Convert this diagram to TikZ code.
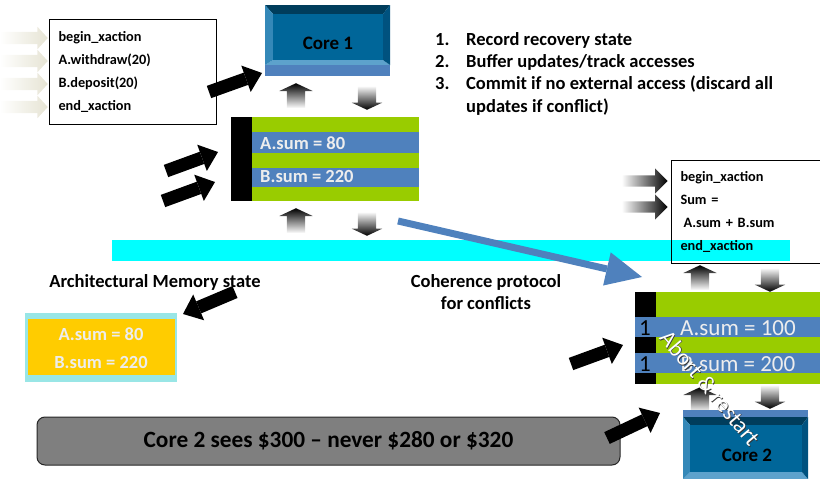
\documentclass[tikz,border=0pt]{standalone}
\usepackage{fontspec}
\setmainfont{Carlito}
\usepackage{tikz}
\usetikzlibrary{arrows.meta,shapes.arrows}

\definecolor{cellgreen}{HTML}{99CC00}
\definecolor{cellblue}{HTML}{4F81BD}
\definecolor{coreinner}{HTML}{006699}
\definecolor{coretop}{HTML}{003D5C}
\definecolor{coreleft}{HTML}{3488B8}
\definecolor{coreright}{HTML}{00527F}
\definecolor{corebottom}{HTML}{5DA2CC}
\definecolor{memgold}{HTML}{FFCC00}
\definecolor{memrim}{HTML}{99E6E6}
\definecolor{busfill}{HTML}{00FFFF}
\definecolor{notegray}{HTML}{7F7F7F}
\definecolor{faint}{HTML}{E6E4D4}
\definecolor{paletext}{HTML}{EDEDED}

\newcommand{\fsz}[2]{\fontsize{#1}{#2}\selectfont}
% bevelled core: outer corners #1,#2 / #3,#4, inner corners #5,#6 / #7,#8
\newcommand{\drawcore}[8]{%
  \fill[coretop]    (#1,#2) -- (#3,#2) -- (#7,#6) -- (#5,#6) -- cycle;
  \fill[corebottom] (#1,#4) -- (#3,#4) -- (#7,#8) -- (#5,#8) -- cycle;
  \fill[coreleft]   (#1,#2) -- (#5,#6) -- (#5,#8) -- (#1,#4) -- cycle;
  \fill[coreright]  (#3,#2) -- (#7,#6) -- (#7,#8) -- (#3,#4) -- cycle;
  \fill[coreinner]  (#5,#6) rectangle (#7,#8);}

\begin{document}
\begin{tikzpicture}[x=1pt,y=-1pt]
  \tikzset{every node/.style={inner sep=0pt},
    codebox/.style={draw,line width=1pt,anchor=north west,align=left,
      inner xsep=9pt,font=\fsz{14.3}{23.3}\bfseries},
    boldtext/.style={font=\fsz{18.5}{22.3}\bfseries},
    cellbold/.style={anchor=west,text=paletext,font=\fsz{18.5}{18.5}\bfseries},
    cellplain/.style={font=\fsz{23}{23}},
    heavy/.style={line width=13pt,-{Triangle[length=17pt,width=28pt,line width=0pt]}},
    uparr/.style={single arrow,shape border rotate=90,anchor=tip,inner sep=9pt,
      minimum width=33pt,minimum height=25pt,single arrow head extend=7.5pt,
      single arrow tip angle=130,top color=black,bottom color=white},
    downarr/.style={single arrow,shape border rotate=270,anchor=tip,inner sep=9pt,
      minimum width=30pt,minimum height=24pt,single arrow head extend=6pt,
      single arrow tip angle=130,top color=white,bottom color=black},
    feedarr/.style={single arrow,anchor=tip,inner sep=5.5pt,minimum width=25pt,
      minimum height=46pt,single arrow head extend=7pt,left color=white,
      right color=black},
    faintarr/.style={single arrow,anchor=tip,inner sep=6pt,minimum width=22pt,
      minimum height=48pt,single arrow head extend=5pt,
      single arrow tip angle=95,left color=white,right color=faint},
    aborttext/.style={rotate=-50,font=\fsz{23}{23}}
  }
  \useasboundingbox (0,0) rectangle (820,479);

  % instruction streams
  \foreach \y [count=\i] in {38,61,84,107}
    \node[faintarr] (feed\i) at (48,\y) {};
  \node[codebox,fill=white,text width=149pt,minimum height=105pt]
    (code1) at (49,19) {begin\_xaction\\A.withdraw(20)\\B.deposit(20)\\end\_xaction};

  % core 1
  \drawcore{265}{5}{390}{65}{273}{14}{383}{60}
  \fill[cellblue] (265,65) rectangle (390,76);
  \node[font=\fsz{19}{19}\bfseries] (core1) at (328,43) {Core 1};

  % cache of core 1
  \fill[black] (231,117) rectangle (252,201);
  \foreach \a/\b/\c in {117/132/cellgreen,132/153/cellblue,153/168/cellgreen,
                        168/187/cellblue,187/201/cellgreen}
    \fill[\c] (252,\a) rectangle (419,\b);
  \node[cellbold] (cacheA) at (260,143) {A.sum = 80};
  \node[cellbold] (cacheB) at (260,177) {B.sum = 220};

  \node[uparr] (up1) at (296,83) {};
  \node[downarr] (dn1) at (367,110) {};
  \node[uparr] (up2) at (296,208) {};
  \node[downarr] (dn2) at (367,236) {};

  % steps
  \node[boldtext,anchor=north west,align=left] (steps) at (435,32)
    {\makebox[31pt][l]{1.}Record recovery state\\
     \makebox[31pt][l]{2.}Buffer updates/track accesses\\
     \makebox[31pt][l]{3.}Commit if no external access (discard all\\
     \hspace*{31pt}updates if conflict)};

  % bus
  \fill[busfill] (112,240) rectangle (790,261);

  % core 2 program
  \node[feedarr] (feed5) at (668,181) {};
  \node[feedarr] (feed6) at (668,207) {};
  \node[codebox,text width=142pt,minimum height=103pt]
    (code2) at (671,160) {begin\_xaction\\Sum =\\\hspace*{3pt}A.sum + B.sum\\end\_xaction};

  % coherence
  \coordinate (flow0) at (398,221);
  \coordinate (flow1) at (642,277);
  \draw[cellblue,line width=7pt,-{Triangle[length=36pt,width=34pt,line width=0pt]}]
    (flow0) -- (flow1);
  \node[boldtext,align=center] (coh) at (486,292) {Coherence protocol\\for conflicts};

  % memory
  \node[boldtext] (archlabel) at (155,282) {Architectural Memory state};
  \fill[memrim] (25,313) rectangle (177,382);
  \fill[memgold] (28,319) rectangle (175,375);
  \node[cellbold,anchor=center] (memA) at (101,334) {A.sum = 80};
  \node[cellbold,anchor=center] (memB) at (101,362) {B.sum = 220};

  % cache of core 2
  \foreach \a/\b/\c in {292/317/cellgreen,317/337/cellblue,337/353/cellgreen,
                        353/373/cellblue,373/384/cellgreen}
    \fill[\c] (635,\a) rectangle (820,\b);
  \foreach \a/\b in {292/317,337/353,373/384}
    \fill[black] (635,\a) rectangle (656,\b);
  \node[cellplain] (flag1) at (645,328) {1};
  \node[cellplain] (flag2) at (645,364) {1};
  \node[cellplain,text=paletext] (cacheC) at (738,328) {A.sum = 100};
  \node[cellplain,text=paletext] (cacheD) at (738,364) {B.sum = 200};

  \node[uparr] (up3) at (700,265) {};
  \node[downarr] (dn3) at (770,292) {};
  \node[uparr] (up4) at (700,387) {};
  \node[downarr] (dn4) at (770,409) {};

  % core 2
  \fill[cellblue] (683,410) rectangle (808,417);
  \drawcore{683}{417}{808}{479}{690}{425}{802}{472}
  \node[font=\fsz{19}{19}\bfseries] (core2) at (747,455) {Core 2};

  % result
  \node[draw=black!85,fill=notegray,rounded corners=8pt,line width=1pt,
    minimum width=583pt,minimum height=48pt,font=\fsz{23.3}{23.3}\bfseries]
    (sees) at (328.5,441) {Core 2 sees \$300 -- never \$280 or \$320};

  % black arrows
  \coordinate (t1) at (209,92);  \coordinate (h1) at (262,73);
  \coordinate (t2) at (166,171); \coordinate (h2) at (218,152);
  \coordinate (t3) at (163,201); \coordinate (h3) at (215,182);
  \coordinate (t4) at (235,292); \coordinate (h4) at (183,314);
  \coordinate (t5) at (571,364); \coordinate (h5) at (623,345);
  \coordinate (t6) at (607,438); \coordinate (h6) at (660,413);
  \foreach \i in {1,...,6}
    \draw[heavy] (t\i) -- (h\i);

  \node[aborttext,text=black!80] (abortsh) at (710.7,388.7) {Abort \& restart};
  \node[aborttext,text=white] (abort) at (710,388) {Abort \& restart};
\end{tikzpicture}
\end{document}
